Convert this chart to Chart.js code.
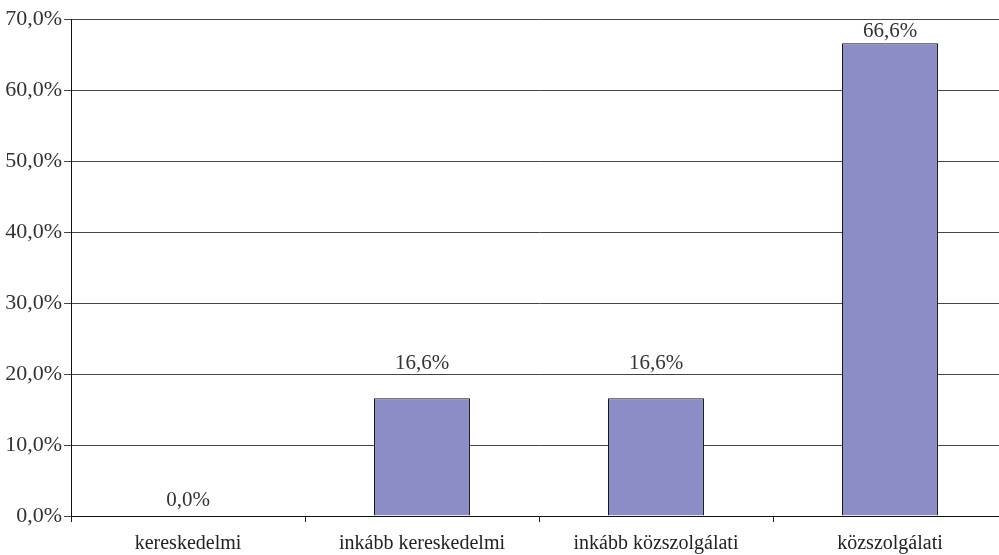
<!DOCTYPE html>
<html>
<head>
<meta charset="utf-8">
<script src="https://cdn.jsdelivr.net/npm/chart.js@4"></script>
<style>
  html, body { margin: 0; padding: 0; background: #fff; overflow: hidden; }
  #wrap { position: absolute; left: 0; top: 0; width: 1010px; height: 555px; }
</style>
</head>
<body>
<div id="wrap"><canvas id="chart" width="1010" height="555"></canvas></div>
<script>
// Data
const categories = ['kereskedelmi', 'inkább kereskedelmi', 'inkább közszolgálati', 'közszolgálati']
const shares = [0.0, 16.6, 16.6, 66.6]
const yTicks = [0, 10, 20, 30, 40, 50, 60, 70]

const fmt = v => v.toFixed(1).replace('.', ',') + '%'

// labels above the bars (gap above bar top, px)
const valueLabels = {
  id: 'valueLabels',
  afterDatasetsDraw(chart, args, opts) {
    const ctx = chart.ctx
    const meta = chart.getDatasetMeta(0)
    ctx.save()
    ctx.font = '21px "Liberation Serif"'
    ctx.fillStyle = '#333'
    ctx.textAlign = 'center'
    ctx.textBaseline = 'middle'
    meta.data.forEach((bar, i) => {
      ctx.fillText(fmt(shares[i]), bar.x, bar.y - opts.gaps[i])
    })
    ctx.restore()
  }
}

const ctx = document.querySelector('#chart')

const myChart = new Chart(ctx, {
  type: 'bar',
  data: {
    labels: categories,
    datasets: [{
      data: shares,
      backgroundColor: '#8b8ec6',
      borderColor: '#111',
      borderWidth: 1,
      barPercentage: 0.41,
      categoryPercentage: 1
    }]
  },
  options: {
    responsive: false,
    animation: false,
    layout: { padding: { top: 19, right: 3, left: 0, bottom: 0 } },
    plugins: {
      legend: { display: false },
      tooltip: { enabled: false },
      valueLabels: { gaps: [16, 35, 35, 12] }
    },
    scales: {
      x: {
        afterFit: s => { s.height = 39 },
        grid: { drawOnChartArea: false, tickLength: 6, color: '#222', offset: true },
        border: { color: '#111', width: 1 },
        ticks: { color: '#222', padding: 10, font: { family: 'Liberation Serif', size: 20 } }
      },
      y: {
        min: 0,
        max: 70,
        afterFit: s => { s.width = 71 },
        afterBuildTicks: s => { s.ticks = yTicks.map(v => ({ value: v })) },
        grid: { color: '#444', tickLength: 7 },
        border: { color: '#111', width: 1 },
        ticks: {
          color: '#333',
          padding: 2,
          font: { family: 'Liberation Serif', size: 22 },
          callback: v => fmt(v)
        }
      }
    }
  },
  plugins: [valueLabels]
})
</script>
</body>
</html>
